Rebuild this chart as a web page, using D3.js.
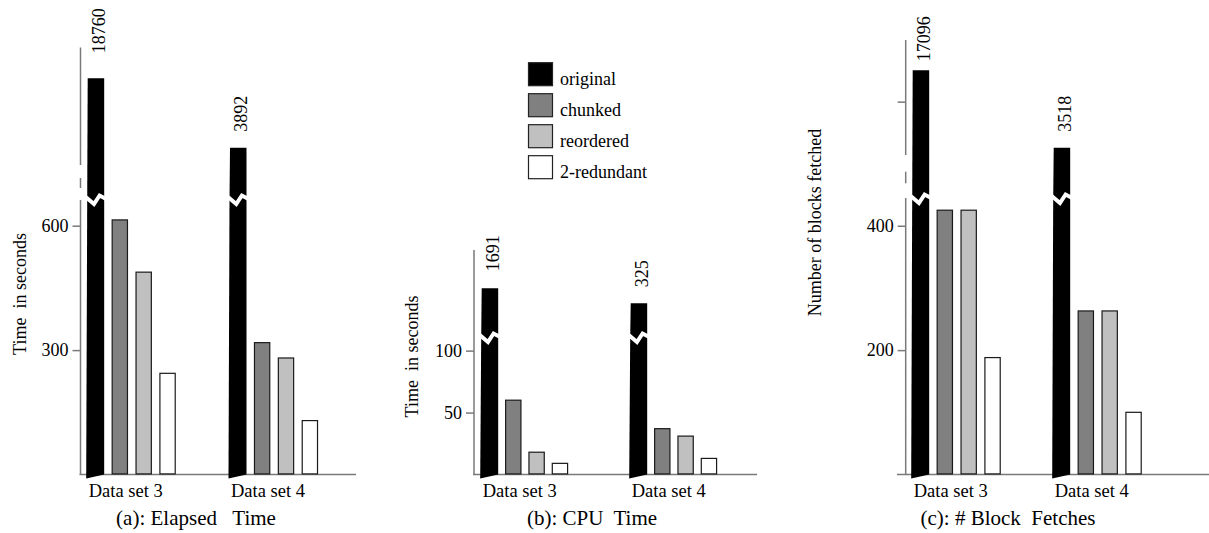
<!DOCTYPE html>
<html>
<head>
<meta charset="utf-8">
<script src="https://cdn.jsdelivr.net/npm/d3@7"></script>
<style>
body { margin: 0; background: #fff; }
</style>
</head>
<body>
<svg id="chart" width="1209" height="533"></svg>
<script>
// data
const seriesNames = ["original", "chunked", "reordered", "2-redundant"]
const dataSets = ["Data set 3", "Data set 4"]

const elapsedDS3 = [18760, 614, 488, 244]
const elapsedDS4 = [3892, 318, 281, 130]
const cpuDS3 = [1691, 60, 18, 9]
const cpuDS4 = [325, 37, 31, 13]
const fetchDS3 = [17096, 425, 425, 188]
const fetchDS4 = [3518, 263, 263, 100]

const elapsedTicks = [300, 600]
const cpuTicks = [50, 100]
const fetchTicks = [200, 400]
const fetchUpperTicks = [9000]

const fillColor = { "original": "#000", "chunked": "#808080", "reordered": "#c0c0c0", "2-redundant": "#fff" }
const axisColor = "#7a7a7a"
const serif = "'Liberation Serif'"
const base = 474.5

// layout for each panel
const panels = [
    {
        title: "(a): Elapsed   Time", yTitle: "Time  in seconds",
        values: [elapsedDS3, elapsedDS4], ticks: elapsedTicks, upperTicks: [],
        axisX: 80.5, g0: 87.7, gStep: 142.3, barStep: 23.87, labelGap: [25, 16],
        lowMax: 662, breakY: 200, upperDomain: [1000, 10000], upperRange: [208, 106],
        axisSegs: [[base, 200], [188, 178], [165, 47.5]],
        baseStart: 79.5, baseEnd: 356, yTitleX: 26, yTitleY: 294, titleX: 196
    },
    {
        title: "(b): CPU  Time", yTitle: "Time  in seconds",
        values: [cpuDS3, cpuDS4], ticks: cpuTicks, upperTicks: [],
        axisX: 474, g0: 481.7, gStep: 149, barStep: 23.33, labelGap: [17, 16],
        lowMax: 110.2, breakY: 338, upperDomain: [100, 1000], upperRange: [314, 293.1],
        axisSegs: [[base, 250]],
        baseStart: 473, baseEnd: 757, yTitleX: 418, yTitleY: 356.5, titleX: 592
    },
    {
        title: "(c): # Block  Fetches", yTitle: "Number of blocks fetched",
        values: [fetchDS3, fetchDS4], ticks: fetchTicks, upperTicks: fetchUpperTicks,
        axisX: 905.7, g0: 912.7, gStep: 141, barStep: 23.87, labelGap: [9, 16],
        lowMax: 443, breakY: 199, upperDomain: [1000, 10000], upperRange: [209.2, 96.5],
        axisSegs: [[base, 198], [183.3, 171.7], [155, 40]],
        baseStart: 897, baseEnd: 1209, yTitleX: 821, yTitleY: 222.5, titleX: 1008
    }
]

const svg = d3.select("#chart")

function addText(sel, size) {
    return sel.append("text")
        .attr("font-family", serif)
        .attr("font-size", size)
        .attr("fill", "#000")
}

function drawPanel(p) {
    let g = svg.append("g")

    let yLow = d3.scaleLinear().domain([0, p.lowMax]).range([base, p.breakY])
    let yUp = d3.scaleLog().domain(p.upperDomain).range(p.upperRange)

    let barW = 16.5
    let pad = 1 - barW / p.barStep
    let x0 = d3.scaleBand().domain(dataSets).range([p.g0, p.g0 + 2 * p.gStep])
    let x1 = d3.scaleBand().domain(seriesNames).range([0, p.barStep * (4 - pad)]).paddingInner(pad)

    // axis (with break gaps)
    g.selectAll(".seg").data(p.axisSegs).enter().append("line")
        .attr("x1", p.axisX).attr("x2", p.axisX)
        .attr("y1", d => d[0]).attr("y2", d => d[1])
        .attr("stroke", axisColor).attr("stroke-width", 1.5)

    g.append("line")
        .attr("x1", p.baseStart).attr("x2", p.baseEnd)
        .attr("y1", base).attr("y2", base)
        .attr("stroke", axisColor).attr("stroke-width", 1.5)

    let tickG = g.append("g").attr("transform", "translate(" + p.axisX + ",0)")
        .call(d3.axisLeft(yLow).tickValues(p.ticks).tickSize(8).tickPadding(4))
    tickG.attr("font-family", serif).attr("font-size", 18)
    tickG.select(".domain").remove()
    tickG.selectAll("line").attr("stroke", axisColor).attr("stroke-width", 1.5)
    tickG.selectAll("text").attr("fill", "#000").attr("font-family", serif)

    if (p.upperTicks.length) {
        let upG = g.append("g").attr("transform", "translate(" + p.axisX + ",0)")
            .call(d3.axisLeft(yUp).tickValues(p.upperTicks).tickSize(8).tickFormat(""))
        upG.select(".domain").remove()
        upG.selectAll("line").attr("stroke", axisColor).attr("stroke-width", 1.5)
    }

    // bars
    let rows = []
    dataSets.forEach((ds, i) => {
        p.values[i].forEach((v, j) => {
            rows.push({ ds: ds, idx: i, key: seriesNames[j], value: v, broken: j === 0 })
        })
    })

    rows.forEach(d => {
        let x = x0(d.ds) + x1(d.key)
        let w = x1.bandwidth()
        if (d.broken) {
            let top = yUp(d.value)
            g.append("path")
                .attr("d", "M" + x + "," + top + "L" + (x + w) + "," + top + "L" + (x + w) + "," + base +
                    "L" + (x - 1.5) + "," + (base + 4) + "L" + (x - 0.5) + "," + p.breakY + "Z")
                .attr("fill", "#000")
            let by = p.breakY
            g.append("polyline")
                .attr("points", [[x - 2, by - 3], [x + 0.38 * w, by + 4], [x + 0.72 * w, by - 4.5], [x + w + 2, by - 1]].join(" "))
                .attr("fill", "none").attr("stroke", "#fff").attr("stroke-width", 4)
            addText(g, 18)
                .attr("transform", "translate(" + (x + w / 2 + 2.5) + "," + (top - p.labelGap[d.idx]) + ") rotate(-90)")
                .attr("dy", "0.35em")
                .text(d.value)
        } else {
            g.append("rect")
                .attr("x", x + 0.6).attr("y", yLow(d.value))
                .attr("width", w - 1.2).attr("height", base - yLow(d.value) - 0.6)
                .attr("fill", fillColor[d.key])
                .attr("stroke", "#1a1a1a").attr("stroke-width", 1.2)
        }
    })

    // category labels
    dataSets.forEach(ds => {
        addText(g, 18.5).attr("x", x0(ds) + 1).attr("y", 497).text(ds)
    })

    addText(g, 21)
        .attr("x", p.titleX).attr("y", 525)
        .attr("text-anchor", "middle")
        .style("white-space", "pre")
        .text(p.title)

    addText(g, 18)
        .attr("transform", "translate(" + p.yTitleX + "," + p.yTitleY + ") rotate(-90)")
        .attr("text-anchor", "middle")
        .style("white-space", "pre")
        .text(p.yTitle)
}

panels.forEach(drawPanel)

// legend
let legend = svg.append("g").attr("transform", "translate(528.5,62.7)")
seriesNames.forEach((s, i) => {
    legend.append("rect")
        .attr("x", 0).attr("y", i * 31)
        .attr("width", 24).attr("height", 23)
        .attr("fill", fillColor[s])
        .attr("stroke", "#222").attr("stroke-width", 1.2)
    addText(legend, 18)
        .attr("x", 31.5).attr("y", i * 31 + 22.5)
        .text(s)
})
</script>
</body>
</html>
